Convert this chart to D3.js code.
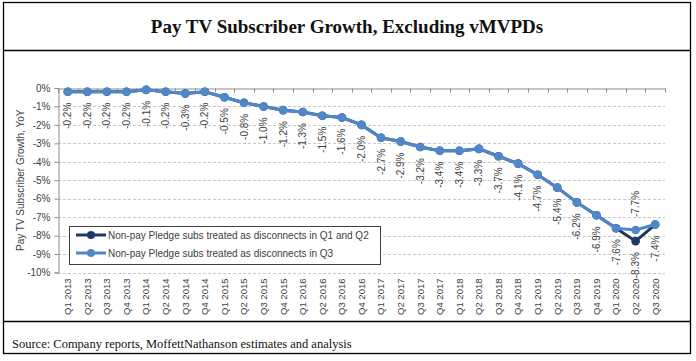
<!DOCTYPE html>
<html>
<head>
<meta charset="utf-8">
<script src="https://cdn.jsdelivr.net/npm/d3@7"></script>
<style>
  body { margin: 0; background: #fff; }
  svg { display: block; }
</style>
</head>
<body>
<svg id="chart" width="696" height="361"></svg>
<script>
const quarters = [
  "Q1 2013", "Q2 2013", "Q3 2013", "Q4 2013",
  "Q1 2014", "Q2 2014", "Q3 2014", "Q4 2014",
  "Q1 2015", "Q2 2015", "Q3 2015", "Q4 2015",
  "Q1 2016", "Q2 2016", "Q3 2016", "Q4 2016",
  "Q1 2017", "Q2 2017", "Q3 2017", "Q4 2017",
  "Q1 2018", "Q2 2018", "Q3 2018", "Q4 2018",
  "Q1 2019", "Q2 2019", "Q3 2019", "Q4 2019",
  "Q1 2020", "Q2 2020", "Q3 2020"
];
// pledge subs as disconnects in Q3
const growthQ3 = [
  -0.2, -0.2, -0.2, -0.2, -0.1, -0.2, -0.3, -0.2,
  -0.5, -0.8, -1.0, -1.2, -1.3, -1.5, -1.6, -2.0,
  -2.7, -2.9, -3.2, -3.4, -3.4, -3.3, -3.7, -4.1,
  -4.7, -5.4, -6.2, -6.9, -7.6, -7.7, -7.4
];
// pledge subs as disconnects in Q1 and Q2
const growthQ1Q2 = [
  -0.2, -0.2, -0.2, -0.2, -0.1, -0.2, -0.3, -0.2,
  -0.5, -0.8, -1.0, -1.2, -1.3, -1.5, -1.6, -2.0,
  -2.7, -2.9, -3.2, -3.4, -3.4, -3.3, -3.7, -4.1,
  -4.7, -5.4, -6.2, -6.9, -7.6, -8.3, -7.4
];
const yTicks = [0, -1, -2, -3, -4, -5, -6, -7, -8, -9, -10];
const seriesNames = [
  "Non-pay Pledge subs treated as disconnects in Q1 and Q2",
  "Non-pay Pledge subs treated as disconnects in Q3"
];

const darkBlue = "#1f3864", lightBlue = "#4f87c9";
const labelColor = "#404040";

const svg = d3.select("#chart");

// frame
svg.append("rect")
  .attr("x", 3.5).attr("y", 2.5).attr("width", 687).attr("height", 351)
  .attr("fill", "none").attr("stroke", "#000").attr("stroke-width", 1.3);
svg.append("line")
  .attr("x1", 3.5).attr("x2", 690.5).attr("y1", 50.5).attr("y2", 50.5)
  .attr("stroke", "#000").attr("stroke-width", 1.3);
svg.append("line")
  .attr("x1", 3.5).attr("x2", 690.5).attr("y1", 321.5).attr("y2", 321.5)
  .attr("stroke", "#000").attr("stroke-width", 1.3);

svg.append("text")
  .attr("x", 347).attr("y", 33)
  .attr("text-anchor", "middle")
  .style("font-family", "'Liberation Serif', serif")
  .style("font-weight", "bold")
  .style("font-size", "19px")
  .attr("fill", "#111")
  .text("Pay TV Subscriber Growth, Excluding vMVPDs");

svg.append("text")
  .attr("x", 12).attr("y", 348)
  .style("font-family", "'Liberation Serif', serif")
  .style("font-size", "12.5px")
  .attr("fill", "#111")
  .text("Source: Company reports, MoffettNathanson estimates and analysis");

// scales
const x = d3.scaleBand().domain(quarters).range([58, 665]).padding(0);
const y = d3.scaleLinear().domain([-10, 0]).range([272.5, 88]);
const cx = q => x(q) + x.bandwidth() / 2;

const sans = "'Liberation Sans', Arial, sans-serif";

// gridlines
svg.append("g")
  .selectAll("line")
  .data(yTicks.filter(d => d !== 0))
  .join("line")
  .attr("x1", 58).attr("x2", 665)
  .attr("y1", d => Math.round(y(d)) + 0.5).attr("y2", d => Math.round(y(d)) + 0.5)
  .attr("stroke", "#c8c8c8")
  .attr("stroke-dasharray", "3,2");

// y axis
const yAxis = svg.append("g")
  .attr("transform", "translate(58.5,0)")
  .call(d3.axisLeft(y).tickValues(yTicks).tickFormat(d => d + "%").tickSize(4).tickPadding(4));
yAxis.select(".domain").attr("stroke", "#8c8c8c");
yAxis.selectAll(".tick line").attr("stroke", "#8c8c8c");
yAxis.selectAll(".tick text")
  .style("font-family", sans).style("font-size", "10px").attr("fill", labelColor);

svg.append("text")
  .attr("transform", `translate(20,${(y(0) + y(-10)) / 2}) rotate(-90)`)
  .attr("text-anchor", "middle")
  .attr("dy", "0.35em")
  .style("font-family", sans).style("font-size", "10px")
  .attr("fill", labelColor)
  .text("Pay TV Subscriber Growth, YoY");

// category axis at 0%
const xAxis = svg.append("g")
  .attr("transform", `translate(0,${Math.round(y(0)) + 0.5})`)
  .call(d3.axisBottom(x).tickSize(0).tickFormat(""));
xAxis.select(".domain").attr("stroke", "#8c8c8c");
xAxis.selectAll(".tick").remove();
xAxis.selectAll("line.bound")
  .data(quarters.map(q => x(q)).concat([x.range()[1]]))
  .join("line")
  .attr("class", "bound")
  .attr("x1", d => Math.round(d) + 0.5).attr("x2", d => Math.round(d) + 0.5)
  .attr("y1", 0).attr("y2", 4)
  .attr("stroke", "#8c8c8c");

// category labels at bottom
svg.append("g")
  .selectAll("text")
  .data(quarters)
  .join("text")
  .attr("transform", q => `translate(${cx(q)},${y(-10) + 6}) rotate(-90)`)
  .attr("text-anchor", "end")
  .attr("dy", "0.35em")
  .style("font-family", sans).style("font-size", "9.5px")
  .attr("fill", labelColor)
  .text(q => q);

// series
const line = d3.line().x((d, i) => cx(quarters[i])).y(d => y(d));

function drawSeries(values, color) {
  const g = svg.append("g");
  g.append("path")
    .datum(values)
    .attr("d", line)
    .attr("fill", "none")
    .attr("stroke", color)
    .attr("stroke-width", 3);
  g.selectAll("circle")
    .data(values)
    .join("circle")
    .attr("cx", (d, i) => cx(quarters[i]))
    .attr("cy", d => y(d))
    .attr("r", 4.3)
    .attr("fill", color);
}
drawSeries(growthQ1Q2, darkBlue);
drawSeries(growthQ3, lightBlue);

// data labels: Q3 series below its points (above where the other series dips),
// Q1/Q2 series only where it differs
const labelData = growthQ3.map((v, i) => ({ i, v, above: growthQ1Q2[i] < v }))
  .concat(growthQ1Q2.map((v, i) => ({ i, v, above: false }))
    .filter(d => growthQ3[d.i] !== d.v));

svg.append("g")
  .selectAll("text")
  .data(labelData)
  .join("text")
  .attr("transform", d => `translate(${cx(quarters[d.i])},${y(d.v) + (d.above ? -13 : 11)}) rotate(-90)`)
  .attr("text-anchor", d => d.above ? "start" : "end")
  .attr("dy", "0.35em")
  .style("font-family", sans).style("font-size", "10px")
  .attr("fill", labelColor)
  .text(d => d.v.toFixed(1) + "%");

// legend
const legend = svg.append("g");
legend.append("rect")
  .attr("x", 69.5).attr("y", 226.5).attr("width", 311).attr("height", 38)
  .attr("fill", "#fff").attr("stroke", "#404040");
const items = legend.selectAll("g")
  .data(seriesNames)
  .join("g")
  .attr("transform", (d, i) => `translate(0,${235 + i * 18})`);
items.append("line")
  .attr("x1", 76).attr("x2", 106)
  .attr("stroke", (d, i) => i === 0 ? darkBlue : lightBlue)
  .attr("stroke-width", 3);
items.append("circle")
  .attr("cx", 91).attr("r", 4)
  .attr("fill", (d, i) => i === 0 ? darkBlue : lightBlue);
items.append("text")
  .attr("x", 108).attr("dy", "0.35em")
  .style("font-family", sans).style("font-size", "10px")
  .attr("fill", labelColor)
  .text(d => d);
</script>
</body>
</html>
